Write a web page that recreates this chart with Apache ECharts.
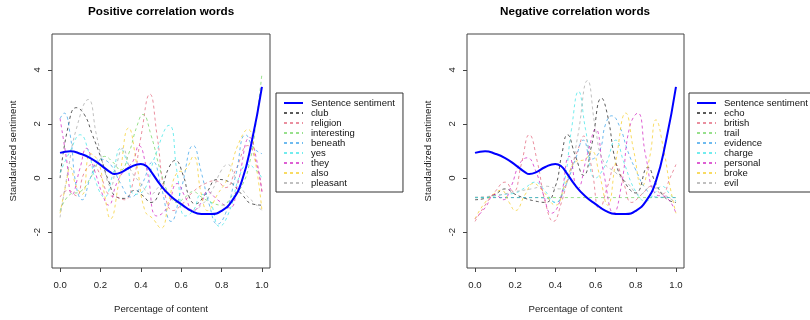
<!DOCTYPE html>
<html>
<head>
<meta charset="utf-8">
<title>Correlation words</title>
<script src="https://cdn.jsdelivr.net/npm/echarts@6/dist/echarts.min.js"></script>
<style>
  html, body { margin: 0; padding: 0; background: #fff; }
  #chart { width: 810px; height: 320px; }
</style>
</head>
<body>
<div id="chart"></div>
<script>
// tick labels
const xTicks = [0, 0.2, 0.4, 0.6, 0.8, 1.0];
const yTicks = [-2, 0, 2, 4];

// sentence sentiment (same curve in both panels)
const sentence = [
  [0, 0.93], [0.05, 0.99], [0.1, 0.9], [0.15, 0.74], [0.2, 0.49], [0.25, 0.21],
  [0.27, 0.15], [0.3, 0.2], [0.35, 0.41], [0.4, 0.52], [0.43, 0.43], [0.45, 0.25],
  [0.5, -0.28], [0.55, -0.68], [0.6, -0.96], [0.65, -1.21], [0.7, -1.33],
  [0.75, -1.33], [0.8, -1.21], [0.85, -0.86], [0.9, -0.12], [0.95, 1.36], [1, 3.37]
];

// positive correlation words
const posNames = ["club", "religion", "interesting", "beneath", "yes", "they", "also", "pleasant"];
const club = [[0,0],[0.04,1.9],[0.08,2.6],[0.12,2.35],[0.16,1.6],[0.2,0.8],[0.24,-0.1],[0.28,-0.7],[0.32,-0.75],[0.37,-0.45],[0.41,-0.65],[0.45,-0.9],[0.5,-0.4],[0.54,0.4],[0.57,0.65],[0.61,0.1],[0.64,-0.7],[0.67,-0.95],[0.72,-0.6],[0.78,-0.05],[0.84,-0.15],[0.9,-0.6],[0.95,-0.95],[1,-1.0]];
const religion = [[0,-0.7],[0.04,-0.45],[0.08,-0.65],[0.12,0.2],[0.16,0.5],[0.2,0.1],[0.24,-0.6],[0.28,-0.7],[0.32,-0.8],[0.36,-0.2],[0.4,1.5],[0.445,3.1],[0.48,1.6],[0.52,-0.6],[0.56,-1.2],[0.6,-1.0],[0.66,-0.5],[0.72,-0.2],[0.77,-0.1],[0.82,-0.35],[0.87,0.3],[0.93,1.2],[0.97,0.6],[1,-0.5]];
const interesting = [[0,-1.2],[0.05,-0.6],[0.1,-0.5],[0.15,0.0],[0.19,0.6],[0.22,0.8],[0.26,0.6],[0.3,0.3],[0.34,0.9],[0.38,1.9],[0.41,2.35],[0.45,1.6],[0.5,0.2],[0.54,-0.6],[0.58,-0.9],[0.62,-0.7],[0.66,-0.5],[0.7,-0.7],[0.75,-0.9],[0.8,-1.0],[0.86,-0.6],[0.9,-0.3],[0.94,0.6],[0.97,2.0],[1,3.85]];
const beneath = [[0,2.2],[0.02,2.4],[0.05,1.6],[0.08,-0.3],[0.11,-0.8],[0.15,0.0],[0.2,0.7],[0.25,0.5],[0.3,-0.2],[0.35,-0.7],[0.4,-0.3],[0.46,0.6],[0.5,-0.3],[0.55,-1.6],[0.6,-0.4],[0.66,1.2],[0.7,0.2],[0.74,-1.0],[0.78,-1.7],[0.82,-1.3],[0.87,0.1],[0.92,1.6],[0.96,1.1],[1,0.9]];
const yes = [[0,0.2],[0.05,1.0],[0.1,1.6],[0.14,1.0],[0.18,-0.2],[0.22,-0.7],[0.26,0.1],[0.3,1.1],[0.33,0.6],[0.37,-0.6],[0.42,-0.4],[0.47,0.8],[0.54,1.95],[0.58,0.2],[0.62,-1.4],[0.66,-1.2],[0.7,-0.6],[0.74,-0.8],[0.79,-1.78],[0.84,-1.2],[0.89,0.1],[0.93,0.5],[0.97,0.3],[1,0.0]];
const they = [[0,2.2],[0.03,0.8],[0.06,-0.6],[0.1,0.4],[0.13,1.1],[0.17,0.3],[0.21,-0.6],[0.24,-1.0],[0.28,-0.2],[0.32,0.3],[0.36,0.6],[0.39,1.2],[0.43,0.3],[0.48,-1.4],[0.53,-1.1],[0.58,-0.2],[0.62,-0.7],[0.66,-1.2],[0.7,-0.9],[0.73,-0.5],[0.78,-0.8],[0.84,-1.1],[0.88,-0.2],[0.94,1.5],[0.97,0.8],[1,-0.5]];
const also = [[0,-1.3],[0.03,-0.2],[0.05,0.4],[0.08,-0.3],[0.11,-0.6],[0.15,0.9],[0.19,0.6],[0.22,-0.6],[0.25,-1.5],[0.29,-0.2],[0.34,1.85],[0.38,0.5],[0.42,-1.2],[0.46,-1.5],[0.5,-1.85],[0.54,-0.8],[0.58,0.2],[0.62,0.3],[0.66,0.8],[0.7,-0.6],[0.73,-1.2],[0.78,-0.6],[0.83,0.0],[0.88,1.2],[0.93,1.8],[0.97,0.5],[1,-1.2]];
const pleasant = [[0,-1.45],[0.04,0.3],[0.08,1.8],[0.14,2.9],[0.18,1.6],[0.22,0.3],[0.25,-0.3],[0.28,0.5],[0.31,1.1],[0.35,0.3],[0.4,-0.2],[0.45,-0.6],[0.5,-0.3],[0.55,-0.7],[0.6,-1.0],[0.65,-1.2],[0.7,-1.0],[0.75,-0.5],[0.8,0.3],[0.83,0.5],[0.87,0.0],[0.92,-0.6],[0.96,-0.9],[1,-1.2]];

// negative correlation words
const negNames = ["echo", "british", "trail", "evidence", "charge", "personal", "broke", "evil"];
const echo = [[0,-0.8],[0.05,-0.75],[0.1,-0.6],[0.15,-0.4],[0.2,-0.6],[0.25,-0.75],[0.3,-0.85],[0.35,-0.9],[0.4,-0.3],[0.43,0.8],[0.46,1.6],[0.5,0.8],[0.54,0.1],[0.58,1.2],[0.63,2.95],[0.66,2.3],[0.7,0.6],[0.74,-0.1],[0.8,-0.55],[0.86,0.4],[0.9,-0.2],[0.95,-0.75],[1,-0.9]];
const british = [[0,-1.6],[0.05,-1.0],[0.1,-0.5],[0.15,-0.15],[0.19,-0.5],[0.23,0.5],[0.27,1.6],[0.31,0.6],[0.35,-0.9],[0.39,-1.6],[0.43,-0.9],[0.47,0.2],[0.51,1.0],[0.54,1.55],[0.58,0.4],[0.62,-1.15],[0.66,-0.3],[0.7,0.5],[0.74,-0.2],[0.78,-0.9],[0.83,-0.6],[0.88,-0.3],[0.93,-0.6],[0.97,0.0],[1,0.5]];
const trail = [[0,-0.72],[0.25,-0.72],[0.5,-0.72],[0.75,-0.72],[1,-0.72]];
const evidence = [[0,-0.72],[0.1,-0.72],[0.2,-0.72],[0.3,-0.72],[0.36,-0.75],[0.4,-0.9],[0.45,-0.3],[0.5,0.7],[0.54,1.4],[0.58,0.7],[0.62,1.0],[0.65,2.0],[0.68,2.3],[0.72,1.9],[0.76,1.0],[0.8,0.3],[0.85,-0.4],[0.9,-0.7],[1,-0.72]];
const charge = [[0,-0.72],[0.05,-0.72],[0.1,-0.65],[0.15,-0.6],[0.2,-0.55],[0.25,-0.35],[0.3,-0.15],[0.34,-0.4],[0.4,-0.9],[0.44,-0.3],[0.48,1.8],[0.515,3.2],[0.55,1.8],[0.6,0.0],[0.65,0.5],[0.7,1.4],[0.74,0.6],[0.8,-0.5],[0.85,-0.85],[0.9,-0.5],[0.93,-0.3],[0.97,-0.6],[1,-0.85]];
const personal = [[0,-1.5],[0.05,-1.1],[0.1,-0.6],[0.14,-0.8],[0.18,-0.3],[0.22,0.5],[0.26,0.75],[0.3,0.3],[0.34,-0.6],[0.38,-1.3],[0.42,-0.9],[0.47,0.8],[0.51,-0.4],[0.56,0.9],[0.6,1.8],[0.64,0.2],[0.69,-1.3],[0.73,-0.2],[0.77,1.9],[0.81,2.4],[0.85,0.8],[0.9,-0.6],[0.95,-0.7],[1,-1.3]];
const broke = [[0,-1.5],[0.05,-0.9],[0.1,-0.55],[0.13,-0.45],[0.17,-0.9],[0.2,-1.2],[0.25,-0.6],[0.29,-0.2],[0.34,-0.5],[0.4,-1.0],[0.45,-0.2],[0.5,0.6],[0.55,0.7],[0.58,1.0],[0.62,0.1],[0.66,-1.0],[0.7,0.6],[0.75,2.4],[0.79,1.0],[0.83,-0.3],[0.87,0.8],[0.9,2.15],[0.94,1.0],[0.97,-0.3],[1,-1.3]];
const evil = [[0,-0.7],[0.1,-0.65],[0.2,-0.5],[0.28,-0.4],[0.35,-0.3],[0.42,-0.4],[0.47,0.1],[0.51,1.5],[0.56,3.6],[0.6,1.8],[0.64,0.6],[0.7,0.2],[0.76,-0.2],[0.82,-0.6],[0.88,-0.3],[0.94,-0.6],[1,-0.9]];

const posData = [club, religion, interesting, beneath, yes, they, also, pleasant];
const negData = [echo, british, trail, evidence, charge, personal, broke, evil];

// R default palette, semi transparent
const palette = [
  "rgba(0,0,0,0.65)", "rgba(223,83,107,0.65)", "rgba(97,208,79,0.65)", "rgba(34,151,230,0.65)",
  "rgba(40,226,229,0.65)", "rgba(205,11,188,0.65)", "rgba(245,199,16,0.65)", "rgba(158,158,158,0.65)"
];

const font = "'Liberation Sans', Arial, sans-serif";

function makeXAxis(gridIndex) {
  return {
    type: "value", gridIndex, min: -0.04, max: 1.04,
    name: "Percentage of content", nameLocation: "middle", nameGap: 36,
    nameTextStyle: { fontSize: 9.6, color: "#222", fontFamily: font },
    axisLine: { show: false, onZero: false },
    axisTick: { show: true, length: 4, customValues: xTicks, lineStyle: { color: "#444" } },
    axisLabel: { customValues: xTicks, margin: 12, fontSize: 9.6, color: "#222", fontFamily: font,
      formatter: v => v.toFixed(1) },
    splitLine: { show: false }
  };
}

function makeYAxis(gridIndex) {
  return {
    type: "value", gridIndex, min: -3.32, max: 5.32,
    name: "Standardized sentiment", nameLocation: "middle", nameGap: 34,
    nameTextStyle: { fontSize: 9.6, color: "#222", fontFamily: font },
    axisLine: { show: false, onZero: false },
    axisTick: { show: true, length: 4, customValues: yTicks, lineStyle: { color: "#444" } },
    axisLabel: { customValues: yTicks, rotate: 90, margin: 10, fontSize: 9.6, color: "#222", fontFamily: font },
    splitLine: { show: false }
  };
}

function makeLegend(left, names) {
  return {
    orient: "vertical", left, top: 93, data: ["Sentence sentiment"].concat(names),
    backgroundColor: "#fff", borderColor: "#333", borderWidth: 1,
    padding: [5, 8, 4, 7], itemWidth: 19, itemHeight: 9.7, itemGap: 0,
    itemStyle: { opacity: 0 },
    textStyle: { fontSize: 9.5, lineHeight: 9.7, color: "#111", fontFamily: font, padding: [0, 0, 0, 3] }
  };
}

function wordSeries(names, datas, gridIndex) {
  return names.map((name, i) => ({
    name, type: "line", xAxisIndex: gridIndex, yAxisIndex: gridIndex,
    data: datas[i], symbol: "none", smooth: 0.5, silent: true,
    lineStyle: { color: palette[i], width: 1, type: [3, 3] },
    itemStyle: { color: palette[i] }
  }));
}

function sentenceSeries(gridIndex) {
  return {
    name: "Sentence sentiment", type: "line", xAxisIndex: gridIndex, yAxisIndex: gridIndex,
    data: sentence, symbol: "none", smooth: 0.5, silent: true, z: 5,
    lineStyle: { color: "#0000ff", width: 2 }, itemStyle: { color: "#0000ff" }
  };
}

const chart = echarts.init(document.getElementById("chart"), null, { renderer: "canvas" });
chart.setOption({
  animation: false,
  title: [
    { text: "Positive correlation words", left: 88, top: 6, padding: 0,
      textStyle: { fontSize: 11.7, fontWeight: "bold", color: "#000", fontFamily: font } },
    { text: "Negative correlation words", left: 500, top: 6, padding: 0,
      textStyle: { fontSize: 11.7, fontWeight: "bold", color: "#000", fontFamily: font } }
  ],
  grid: [
    { left: 52, top: 34, width: 218, height: 234, show: true, borderColor: "#444", borderWidth: 1 },
    { left: 467, top: 34, width: 217, height: 234, show: true, borderColor: "#444", borderWidth: 1 }
  ],
  legend: [makeLegend(276, posNames), makeLegend(689, negNames)],
  xAxis: [makeXAxis(0), makeXAxis(1)],
  yAxis: [makeYAxis(0), makeYAxis(1)],
  series: [].concat(
    wordSeries(posNames, posData, 0),
    wordSeries(negNames, negData, 1),
    [sentenceSeries(0), sentenceSeries(1)]
  )
});
</script>
</body>
</html>
